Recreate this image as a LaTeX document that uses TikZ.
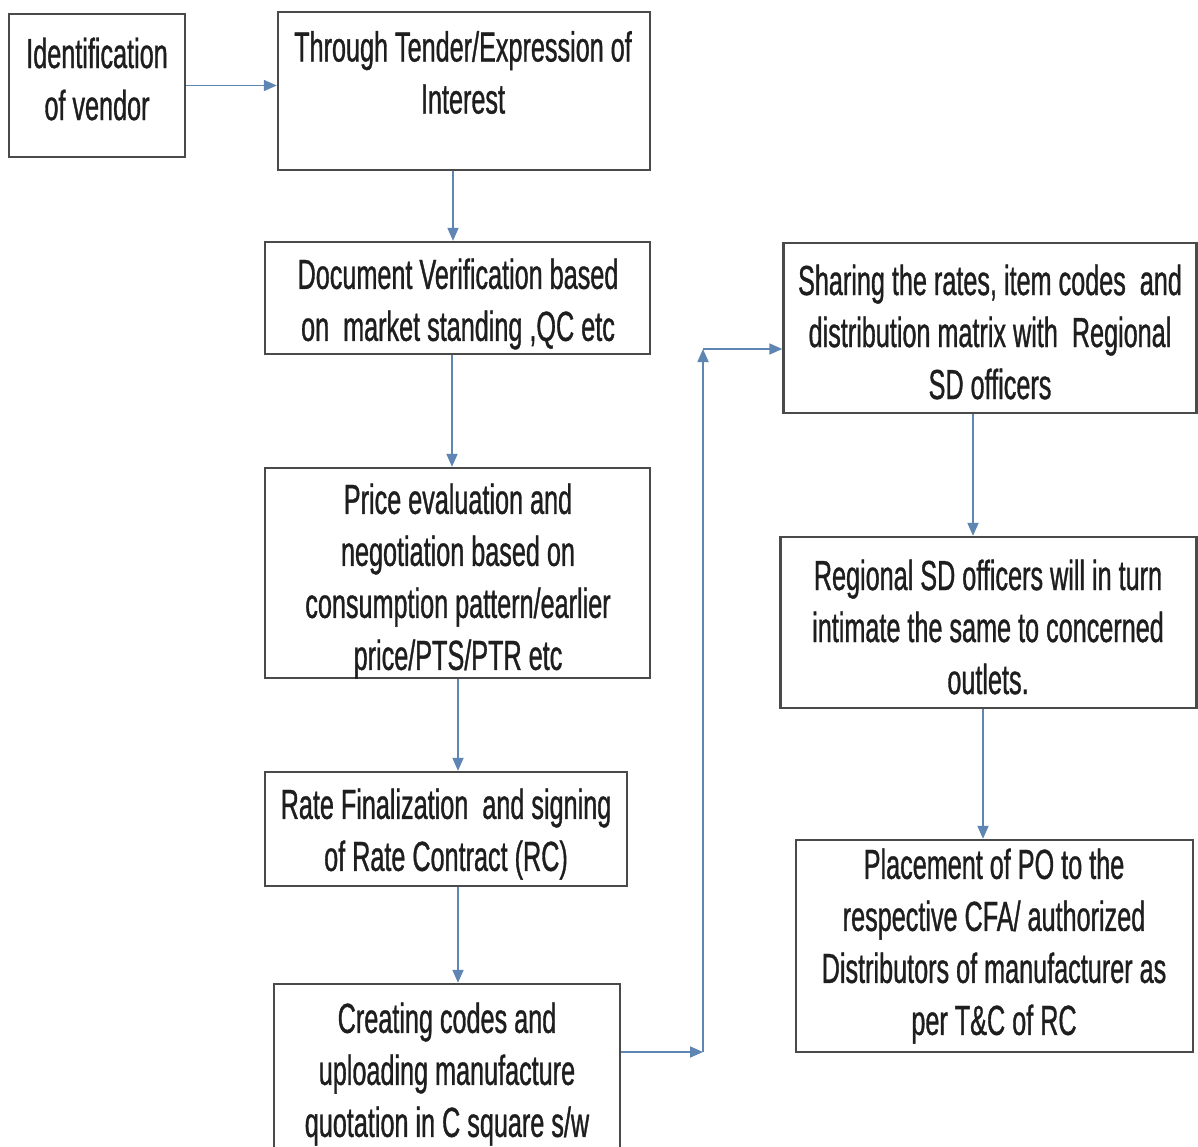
\documentclass[tikz,border=0pt]{standalone}
\usepackage{fontspec}
\setmainfont[FakeStretch=0.6,FakeBold=0.8]{Liberation Sans}
\usetikzlibrary{arrows.meta}
\definecolor{boxline}{HTML}{4A4A4A}
\definecolor{arrowblue}{HTML}{5F86B3}
\definecolor{txtcol}{HTML}{1E1E1E}
\begin{document}
\begin{tikzpicture}[x=1pt,y=-1pt,
  box/.style={draw=boxline, line width=2.4pt, fill=white, inner sep=0pt},
  txt/.style={align=center, text=txtcol, font=\fontsize{42}{52}\selectfont, inner sep=0pt},
  arr/.style={draw=arrowblue, line width=1.8pt, -{Triangle[length=13pt,width=11pt]}}]
\useasboundingbox[fill=white] (0,0) rectangle (1198,1146);

% boxes
\node[box, minimum width=176pt, minimum height=143pt] (b1) at (97,85.5) {};
\node[box, minimum width=372pt, minimum height=158pt] (b2) at (464,91) {};
\node[box, minimum width=385pt, minimum height=112pt] (b3) at (457.5,298) {};
\node[box, minimum width=385pt, minimum height=210pt] (b4) at (457.5,573) {};
\node[box, minimum width=362pt, minimum height=114pt] (b5) at (446,829) {};
\node[box, minimum width=346pt, minimum height=186pt] (b6) at (447,1077) {};
\node[box, minimum width=413pt, minimum height=170pt] (b7) at (990,328) {};
\node[box, minimum width=416pt, minimum height=171pt] (b8) at (988.5,622.5) {};
\node[box, minimum width=397pt, minimum height=212pt] (b9) at (994.5,946) {};

% texts
\node[txt] (t1) at (97,79) {Identification\\of vendor};
\node[txt] (t2) at (463,72.5) {Through Tender/Expression of\\Interest};
\node[txt] (t3) at (458,304) {Document Verification based\\on \ market standing ,QC etc};
\node[txt] (t4) at (458,581) {Price evaluation and\\negotiation based on\\consumption pattern/earlier\\price/PTS/PTR etc};
\node[txt] (t5) at (446,834) {Rate Finalization \ and signing\\of Rate Contract (RC)};
\node[txt] (t6) at (447,1074) {Creating codes and\\uploading manufacture\\quotation in C square s/w};
\node[txt] (t7) at (990,332) {Sharing the rates, item codes \ and\\distribution matrix with \ Regional\\SD officers};
\node[txt] (t8) at (988,627) {Regional SD officers will in turn\\intimate the same to concerned\\outlets.};
\node[txt] (t9) at (994,946) {Placement of PO to the\\respective CFA/ authorized\\Distributors of manufacturer as\\per T\&C of RC};

% connectors
\draw[arr] (b1.east) -- (b2.west |- b1.east);
\draw[arr] ([xshift=-11pt]b2.south) -- ([xshift=-11pt]b2.south |- b3.north);
\draw[arr] ([xshift=-5.5pt]b3.south) -- ([xshift=-5.5pt]b3.south |- b4.north);
\draw[arr] ([xshift=0.5pt]b4.south) -- ([xshift=0.5pt]b4.south |- b5.north);
\draw[arr] ([xshift=12pt]b5.south) -- ([xshift=12pt]b5.south |- b6.north);
\draw[arr] ([xshift=-17pt]b7.south) -- ([xshift=-17pt]b7.south |- b8.north);
\draw[arr] ([xshift=-5.5pt]b8.south) -- ([xshift=-5.5pt]b8.south |- b9.north);

\coordinate (c1) at (703,1052);
\coordinate (c2) at (703,349);
\draw[arr] (b6.east |- c1) -- (c1);
\draw[arr] (c1) -- (c2);
\draw[arr] (c2) -- (b7.west |- c2);
\end{tikzpicture}
\end{document}
